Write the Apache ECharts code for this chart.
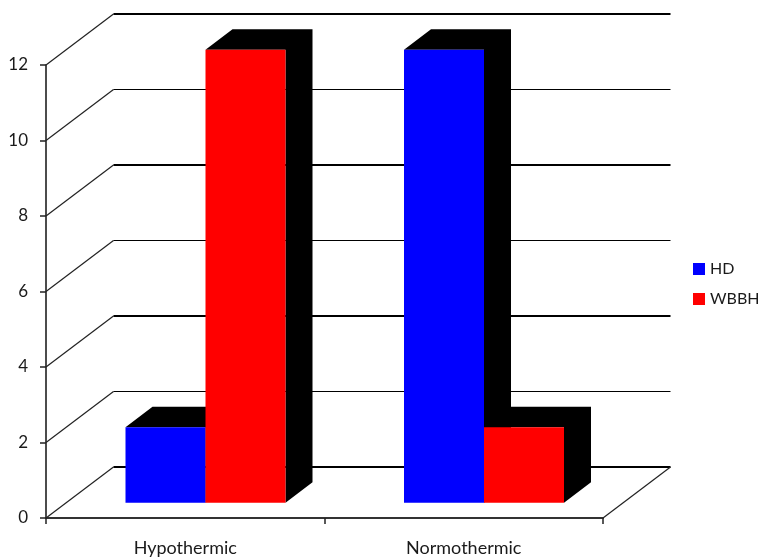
<!DOCTYPE html>
<html>
<head>
<meta charset="utf-8">
<style>html,body{margin:0;padding:0;background:#fff}#c{width:764px;height:559px}</style>
<script src="https://cdn.jsdelivr.net/npm/echarts@6/dist/echarts.min.js"></script>
</head>
<body>
<div id="c"></div>
<script>
var categories = ['Hypothermic', 'Normothermic'];
var hdValues = [2, 12];
var wbbhValues = [12, 2];
var yTicks = [0, 2, 4, 6, 8, 10, 12];

var WALL_DX = 67.5, WALL_DY = -51;
var BAR_W_RATIO = 80 / 278.5;
var FRONT = 0.3, BACK = 0.7;
var FONT = 'Lato, "Open Sans", sans-serif';

function wallItem(params, api) {
  var v = api.value(0);
  var cs = params.coordSys;
  var y = api.coord([0, v])[1];
  var x0 = cs.x, x1 = cs.x + cs.width;
  var thick = (v / 2) % 2 === 0;
  var children = [{
    type: 'polyline',
    shape: {points: [[x0, y], [x0 + WALL_DX, y + WALL_DY]]},
    style: {stroke: '#222', lineWidth: 1.2, fill: null}
  }, {
    type: 'line',
    shape: {x1: x0 + WALL_DX, y1: y + WALL_DY, x2: x1 + WALL_DX, y2: y + WALL_DY},
    style: {stroke: '#000', lineWidth: thick ? 2 : 1}
  }];
  if (v === 0) {
    children.push({
      type: 'line',
      shape: {x1: x1, y1: y, x2: x1 + WALL_DX, y2: y + WALL_DY},
      style: {stroke: '#222', lineWidth: 1.2}
    });
  }
  return {type: 'group', children: children};
}

function barItem(slot) {
  return function (params, api) {
    var cat = api.value(0), val = api.value(1);
    var c = api.coord([cat, 0]);
    var top = api.coord([cat, val])[1];
    var band = api.size([1, 0])[0];
    var w = band * BAR_W_RATIO;
    var fx = c[0] + FRONT * WALL_DX + (slot === 0 ? -w : 0);
    var base = c[1] + FRONT * WALL_DY;
    var t = top + FRONT * WALL_DY;
    var dx = (BACK - FRONT) * WALL_DX, dy = (BACK - FRONT) * WALL_DY;
    return {
      type: 'group',
      children: [{
        type: 'polygon',
        shape: {points: [[fx, t], [fx + dx, t + dy], [fx + w + dx, t + dy], [fx + w + dx, base + dy], [fx + w, base], [fx + w, t]]},
        style: {fill: '#000'}
      }, {
        type: 'rect',
        shape: {x: fx, y: t, width: w, height: base - t},
        style: {fill: api.visual('color')}
      }]
    };
  };
}

function pairs(values) {
  return values.map(function (v, i) { return [i, v]; });
}

var chart = echarts.init(document.getElementById('c'), null, {renderer: 'canvas'});
chart.setOption({
  animation: false,
  backgroundColor: '#fff',
  grid: {left: 46, right: 161, top: 65, bottom: 41, containLabel: false},
  legend: {
    data: ['HD', 'WBBH'],
    orient: 'vertical',
    left: 693,
    top: 261,
    padding: 0,
    icon: 'rect',
    itemWidth: 12,
    itemHeight: 12,
    itemGap: 14,
    selectedMode: false,
    textStyle: {fontFamily: FONT, fontSize: 16, color: '#1a1a1a', padding: [0, 0, 0, 0]}
  },
  xAxis: {
    type: 'category',
    data: categories,
    axisLine: {lineStyle: {color: '#333', width: 2}},
    axisTick: {show: true, length: 6, lineStyle: {color: '#222', width: 1.5}},
    axisLabel: {fontFamily: FONT, fontSize: 18, color: '#1a1a1a', margin: 21}
  },
  yAxis: {
    type: 'value',
    min: 0,
    max: 12,
    interval: 2,
    splitLine: {show: false},
    axisLine: {show: true, lineStyle: {color: '#111', width: 1.5}},
    axisTick: {show: true, length: 6, lineStyle: {color: '#222', width: 1.5}},
    axisLabel: {fontFamily: FONT, fontSize: 17, color: '#1a1a1a', margin: 18}
  },
  series: [{
    name: 'wall',
    type: 'custom',
    silent: true,
    clip: false,
    renderItem: wallItem,
    encode: {y: 0},
    data: yTicks.map(function (v) { return [v]; }),
    z: 1
  }, {
    name: 'HD',
    type: 'custom',
    silent: true,
    clip: false,
    renderItem: barItem(0),
    encode: {x: 0, y: 1},
    itemStyle: {color: '#0000ff'},
    data: pairs(hdValues),
    z: 2
  }, {
    name: 'WBBH',
    type: 'custom',
    silent: true,
    clip: false,
    renderItem: barItem(1),
    encode: {x: 0, y: 1},
    itemStyle: {color: '#ff0000'},
    data: pairs(wbbhValues),
    z: 3
  }]
});
</script>
</body>
</html>
